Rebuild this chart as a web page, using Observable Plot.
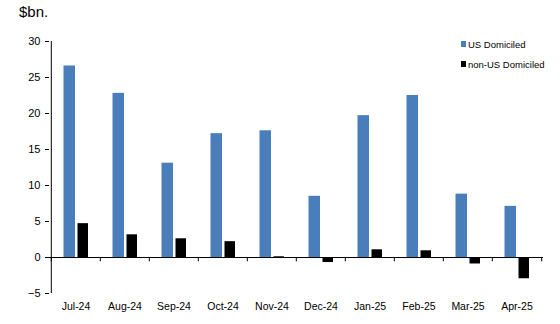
<!DOCTYPE html>
<html>
<head>
<meta charset="utf-8">
<script src="https://cdn.jsdelivr.net/npm/d3@7"></script>
<script src="https://cdn.jsdelivr.net/npm/@observablehq/plot@0.6"></script>
<style>
  body { margin: 0; background: #fff; font-family: "Liberation Sans", Arial, sans-serif; }
  #wrap { position: relative; width: 560px; height: 324px; overflow: hidden; }
  #title { position: absolute; left: 19px; top: 3px; font-size: 15px; color: #000; }
  #chart { position: absolute; left: 0; top: 22px; }
  #legend { position: absolute; left: 461px; top: 37px; font-size: 9.5px; color: #000; }
  .row { display: flex; align-items: center; height: 14px; margin-bottom: 6px; white-space: nowrap; }
  .sw { width: 5px; height: 6px; margin-right: 2px; }
</style>
</head>
<body>
<div id="wrap">
  <div id="title">$bn.</div>
  <div id="chart"></div>
  <div id="legend"></div>
</div>
<script>
const months = ["Jul-24","Aug-24","Sep-24","Oct-24","Nov-24","Dec-24","Jan-25","Feb-25","Mar-25","Apr-25"];
const usDomiciled = [26.6, 22.8, 13.1, 17.2, 17.6, 8.5, 19.7, 22.5, 8.8, 7.1];
const nonUsDomiciled = [4.7, 3.15, 2.6, 2.2, 0.1, -0.7, 1.07, 0.93, -0.9, -2.95];
const seriesNames = ["US Domiciled", "non-US Domiciled"];
const seriesColors = ["#4a7ebb", "#000000"];
const yTicks = [-5, 0, 5, 10, 15, 20, 25, 30];

const table = months.map((m, i) => ({month: m, us: usDomiciled[i], nonUs: nonUsDomiciled[i]}));

const width = 560, height = 302, marginLeft = 49, marginRight = 17;
const bw = (width - marginLeft - marginRight) / months.length;

const chart = Plot.plot({
  width, height,
  marginLeft, marginRight, marginTop: 19, marginBottom: 31,
  style: {fontFamily: "Liberation Sans, Arial, sans-serif", color: "#000", background: "#fff"},
  x: {domain: months, padding: 0, axis: null},
  y: {domain: [-5, 30], axis: null},
  marks: [
    Plot.barY(table, {x: "month", y: "us", fill: seriesColors[0], insetLeft: 12.5, insetRight: 25}),
    Plot.barY(table, {x: "month", y: "nonUs", fill: seriesColors[1], insetLeft: 26.5, insetRight: 12}),
    Plot.ruleY([0], {stroke: "#000", strokeWidth: 1}),
    Plot.ruleX([months[0]], {x: d => d, y1: -5, y2: 30, dx: -bw / 2, stroke: "#000"}),
    Plot.ruleX(months, {x: d => d, y1: 0, y2: -0.6, dx: -bw / 2, stroke: "#000"}),
    Plot.ruleX([months[months.length - 1]], {x: d => d, y1: 0, y2: -0.6, dx: bw / 2, stroke: "#000"}),
    Plot.axisY({ticks: yTicks, tickSize: 4, tickPadding: 5, fontSize: 11, label: null}),
    Plot.axisX({tickSize: 0, tickPadding: 9, fontSize: 10.5, label: null})
  ]
});
document.getElementById("chart").appendChild(chart);

const legend = document.getElementById("legend");
seriesNames.forEach((name, i) => {
  const row = document.createElement("div");
  row.className = "row";
  const sw = document.createElement("div");
  sw.className = "sw";
  sw.style.background = seriesColors[i];
  const t = document.createElement("span");
  t.textContent = name;
  row.appendChild(sw);
  row.appendChild(t);
  legend.appendChild(row);
});
</script>
</body>
</html>
